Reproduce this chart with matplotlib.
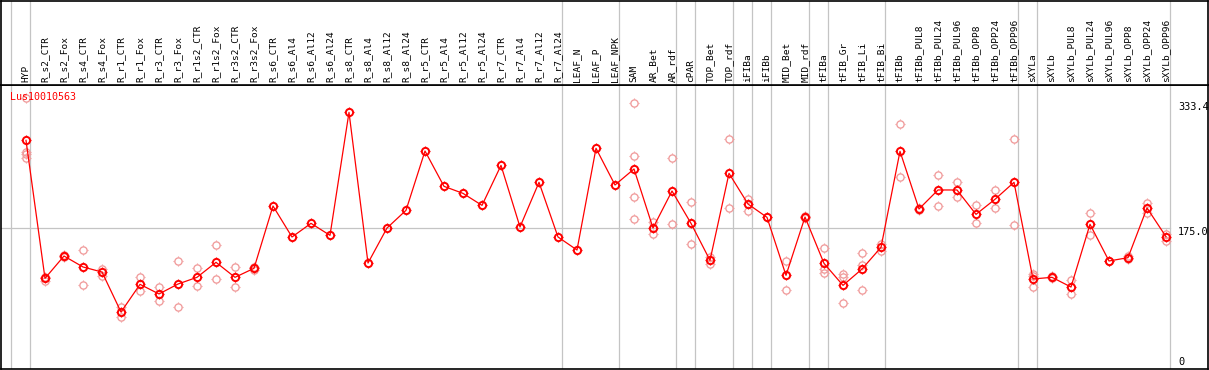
import matplotlib
matplotlib.use("Agg")
import matplotlib.pyplot as plt
from matplotlib.path import Path

title = "Lus10010563"
categories = ["HYP", "R_s2_CTR", "R_s2_Fox", "R_s4_CTR", "R_s4_Fox", "R_r1_CTR", "R_r1_Fox",
              "R_r3_CTR", "R_r3_Fox", "R_r1s2_CTR", "R_r1s2_Fox", "R_r3s2_CTR", "R_r3s2_Fox",
              "R_s6_CTR", "R_s6_Al4", "R_s6_Al12", "R_s6_Al24", "R_s8_CTR", "R_s8_Al4",
              "R_s8_Al12", "R_s8_Al24", "R_r5_CTR", "R_r5_Al4", "R_r5_Al12", "R_r5_Al24",
              "R_r7_CTR", "R_r7_Al4", "R_r7_Al12", "R_r7_Al24", "LEAF_N", "LEAF_P", "LEAF_NPK",
              "SAM", "AR_Bet", "AR_rdf", "cPAR", "TOP_Bet", "TOP_rdf", "iFIBa", "iFIBb",
              "MID_Bet", "MID_rdf", "tFIBa", "tFIB_Gr", "tFIB_Li", "tFIB_Bi", "tFIBb",
              "tFIBb_PUL8", "tFIBb_PUL24", "tFIBb_PUL96", "tFIBb_OPP8", "tFIBb_OPP24",
              "tFIBb_OPP96", "sXYLa", "sXYLb", "sXYLb_PUL8", "sXYLb_PUL24", "sXYLb_PUL96",
              "sXYLb_OPP8", "sXYLb_OPP24", "sXYLb_OPP96"]
group_sizes = [1, 28, 3, 3, 1, 2, 1, 1, 2, 1, 3, 7, 1, 7]

means = [286.0, 111.1, 139.4, 125.5, 119.1, 68.4, 103.5, 91.3, 103.9, 112.4, 131.4, 112.4, 123.8,
         202.8, 163.5, 180.8, 165.6, 321.5, 130.5, 174.9, 197.3, 272.5, 227.7, 218.8, 203.6,
         254.3, 176.2, 232.8, 163.5, 147.0, 275.9, 229.4,
         249.7, 174.9, 221.8, 180.8, 133.9, 244.2, 205.3, 188.4, 114.9, 188.8,
         130.1, 102.2, 122.9, 150.4, 272.1, 199.0, 223.1, 223.1, 192.2, 211.3, 232.8,
         110.3, 112.4, 100.1, 179.6, 133.1, 137.3, 200.3, 163.9]

replicates = [
    [340.0, 271.6, 268.7, 263.2], [113.2, 108.1], [140.5, 138.3], [146.6, 102.7], [122.9, 114.5],
    [74.4, 62.5], [112.8, 94.6], [100.1, 82.0], [132.7, 74.4], [124.2, 101.0], [153.4, 109.9],
    [125.1, 99.7], [125.9, 121.6],
    [], [], [], [], [], [], [], [], [], [], [], [], [], [], [], [], [], [], [],
    [333.0, 265.8, 214.2, 185.9], [182.5, 166.9], [263.2, 179.6], [207.5, 154.2], [138.6, 129.7],
    [287.3, 199.8], [212.1, 196.9], [188.4], [132.7, 96.3], [190.0, 187.5],
    [149.2, 122.5, 118.2], [116.2, 112.4, 79.4], [142.8, 128.0, 96.3], [154.6, 146.0],
    [306.3, 239.1], [198.0, 200.0], [241.7, 202.4], [232.8, 213.8], [203.6, 180.8], [222.6, 199.8],
    [287.3, 178.3],
    [116.6, 99.7, 114.0], [113.5, 111.5], [109.0, 90.8], [193.5, 166.4], [133.5, 132.5],
    [139.5, 135.0], [206.6, 193.9], [166.9, 158.8]]

y_ticks = [0, 175.0, 333.4]
y_tick_labels = ["0", "175.0", "333.4"]

W, H = 1209, 370
fig = plt.figure(figsize=(W / 100, H / 100), dpi=100)
PX = 19.0          # pixels per category
X0 = 26.0          # pixel of first category
SCALE = 0.789      # pixels per unit
Y0 = 366.0         # pixel of value 0

def fx(px):
    return (px - X0) / PX

# marker: four short ticks outside a circle of radius 1
R_IN, R_OUT = 1.0, 1.45
tick_path = Path(
    [(0, R_IN), (0, R_OUT), (0, -R_IN), (0, -R_OUT),
     (R_IN, 0), (R_OUT, 0), (-R_IN, 0), (-R_OUT, 0)],
    [Path.MOVETO, Path.LINETO] * 4)

xl = (fx(1), fx(1208))
ax = fig.add_axes([1 / W, 1 / H, 1207 / W, (369 - 85) / H])
ax.set_xlim(*xl)
ax.set_ylim((Y0 - 369) / SCALE, (Y0 - 85) / SCALE)
hd = fig.add_axes([1 / W, (H - 85) / H, 1207 / W, 84 / H])
hd.set_xlim(*xl)
hd.set_ylim(0, 84)
for a in (ax, hd):
    a.set_xticks([])
    a.set_yticks([])
    for s in a.spines.values():
        s.set_color("black")
        s.set_linewidth(1.2)

grid_c = "#c4c4c4"
bounds = [0]
for g in group_sizes:
    bounds.append(bounds[-1] + g)
for b in bounds:
    xb = b - 15.0 / PX
    ax.axvline(xb, color=grid_c, lw=0.9, zorder=1)
    hd.axvline(xb, color=grid_c, lw=0.9, zorder=1)

ax.plot([xl[0], fx(1170)], [175.0, 175.0], color=grid_c, lw=0.9, zorder=1)

CIRC = 5.2
xs = list(range(len(categories)))
rep_c = "#f09a9a"
for i, reps in enumerate(replicates):
    if reps:
        ax.plot([i] * len(reps), reps, linestyle="none", marker=tick_path, ms=CIRC * R_OUT,
                mew=0.8, color=rep_c, zorder=2)
        ax.plot([i] * len(reps), reps, linestyle="none", marker="o", ms=CIRC, mew=0.95,
                mfc="none", mec=rep_c, zorder=2)

ax.plot(xs, means, color="red", lw=0.9, zorder=3)
ax.plot(xs, means, linestyle="none", marker=tick_path, ms=CIRC * R_OUT, mew=0.9,
        color="red", zorder=4)
ax.plot(xs, means, linestyle="none", marker="o", ms=CIRC, mew=1.4, mfc="none", mec="red",
        zorder=5)

for i, c in enumerate(categories):
    hd.text(i, 2.5, c, rotation=90, ha="center", va="bottom", fontsize=6.8,
            family="DejaVu Sans Mono", color="black")

ax.text(fx(10), (Y0 - 97) / SCALE, title, color="red", fontsize=7.2, family="DejaVu Sans Mono",
        ha="left", va="center", zorder=6)

tick_px = [362, 232, 107]
for v, lab, py in zip(y_ticks, y_tick_labels, tick_px):
    ax.text(fx(1178), (Y0 - py) / SCALE, lab, fontsize=7.4, family="DejaVu Sans Mono",
            ha="left", va="center", color="black")

fig.savefig("out.png", dpi=100)
